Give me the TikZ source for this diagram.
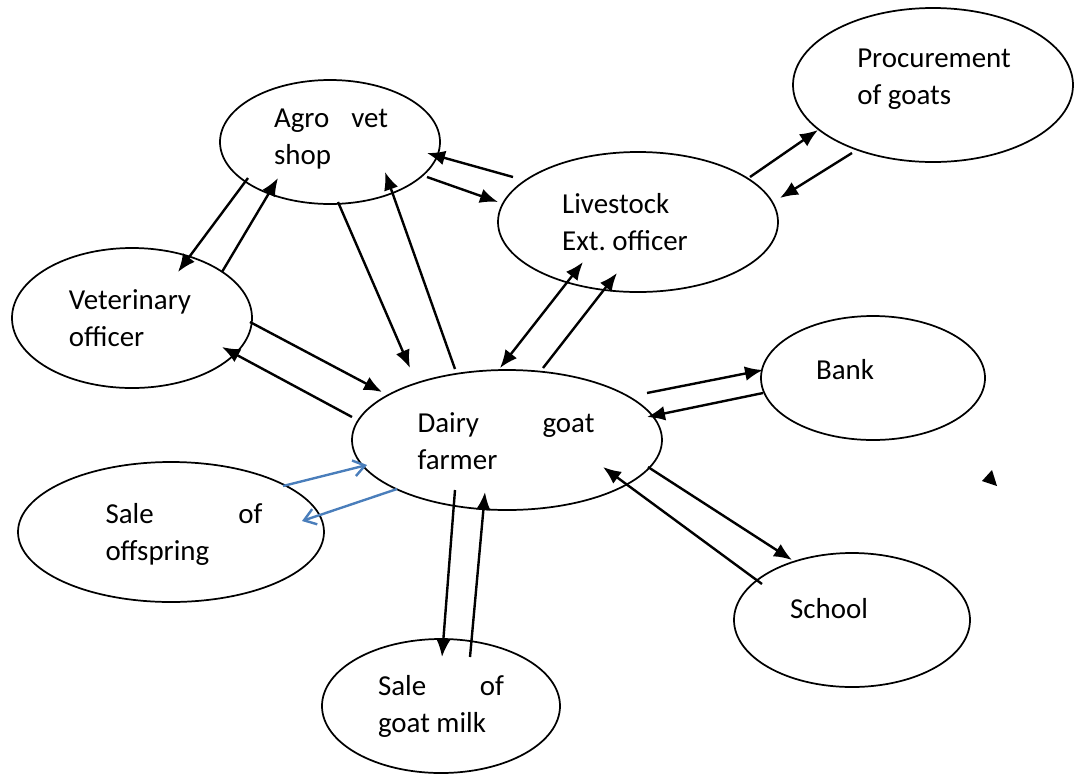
\documentclass[tikz,border=0pt]{standalone}
\usepackage{fontspec}
\setmainfont{Carlito}
\usepackage{tikz}
\usetikzlibrary{shapes.geometric,arrows.meta}
\definecolor{saleblue}{RGB}{74,126,187}
\tikzset{
    oval-node/.style = {draw, ellipse, line width=1.3pt, inner sep=0pt},
    oval-text/.style = {align=flush left, inner sep=0pt, font=\fontsize{21.7}{27.75}\selectfont},
    flow-arrow/.style = {-{Latex[length=13.5pt, width=11pt]}, line width=1.8pt},
    both-arrow/.style = {{Latex[length=13.5pt, width=11pt]}-{Latex[length=13.5pt, width=11pt]}, line width=1.8pt},
    sale-arrow/.style = {-{Straight Barb[length=8.5pt, width=12pt, line width=1.8pt]}, draw=saleblue, line width=1.8pt},
}

\begin{document}
\begin{tikzpicture}[x=0.75pt, y=-0.75pt]
\useasboundingbox (0,0) rectangle (1075,776);

\node[oval-node, minimum width=165pt, minimum height=93pt] (agro) at (330,142) {};
\node[oval-node, minimum width=210pt, minimum height=115.5pt] (proc) at (933,85) {};
\node[oval-node, minimum width=210pt, minimum height=105pt] (live) at (638,222) {};
\node[oval-node, minimum width=180pt, minimum height=105pt] (vet) at (132,318) {};
\node[oval-node, minimum width=232.5pt, minimum height=105pt] (farmer) at (507,440) {};
\node[oval-node, minimum width=168pt, minimum height=93pt] (bank) at (873,378) {};
\node[oval-node, minimum width=229.5pt, minimum height=105pt] (offs) at (171,532) {};
\node[oval-node, minimum width=177pt, minimum height=100.5pt] (school) at (852,620) {};
\node[oval-node, minimum width=178.5pt, minimum height=100.5pt] (milk) at (441,706) {};

\node[oval-text, text width=85.5pt] (agro-text) at (331,139) {Agro\hfill vet\\shop};
\node[oval-text] (proc-text) at (934,79) {Procurement\\of goats};
\node[oval-text] (live-text) at (625,222) {Livestock\\Ext.\ officer};
\node[oval-text] (vet-text) at (130,318) {Veterinary\\officer};
\node[oval-text, text width=132.75pt] (farmer-text) at (506,441) {Dairy\hfill goat\\farmer};
\node[oval-text] (bank-text) at (845,370) {Bank};
\node[oval-text, text width=117.75pt] (offs-text) at (184,534) {Sale\hfill of\\offspring};
\node[oval-text] (school-text) at (829,609) {School};
\node[oval-text, text width=94.5pt] (milk-text) at (441,706) {Sale\hfill of\\goat milk};

\draw[flow-arrow] ([shift={(-82,36)}]agro.center) -- ([shift={(46,-46)}]vet.center);
\draw[flow-arrow] ([shift={(90,-46)}]vet.center) -- ([shift={(-52,36)}]agro.center);
\draw[flow-arrow] ([shift={(8,60)}]agro.center) -- ([shift={(-97,-72)}]farmer.center);
\draw[flow-arrow] ([shift={(-52,-71)}]farmer.center) -- ([shift={(55,30)}]agro.center);
\draw[flow-arrow] ([shift={(-125,-45)}]live.center) -- ([shift={(97,11)}]agro.center);
\draw[flow-arrow] ([shift={(97,35)}]agro.center) -- ([shift={(-140,-20)}]live.center);
\draw[flow-arrow] ([shift={(112,-45)}]live.center) -- ([shift={(-115,45)}]proc.center);
\draw[flow-arrow] ([shift={(-81,68)}]proc.center) -- ([shift={(142,-24)}]live.center);
\draw[both-arrow] ([shift={(-55,40)}]live.center) -- ([shift={(-7,-72)}]farmer.center);
\draw[flow-arrow] ([shift={(36,-72)}]farmer.center) -- ([shift={(-21,51)}]live.center);
\draw[flow-arrow] ([shift={(118,4)}]vet.center) -- ([shift={(-125,-48)}]farmer.center);
\draw[flow-arrow] ([shift={(-155,-23)}]farmer.center) -- ([shift={(90,29)}]vet.center);
\draw[flow-arrow] ([shift={(140,-47)}]farmer.center) -- ([shift={(-110,-8)}]bank.center);
\draw[flow-arrow] ([shift={(-110,15)}]bank.center) -- ([shift={(140,-23)}]farmer.center);
\draw[flow-arrow] ([shift={(141,27)}]farmer.center) -- ([shift={(-60,-60)}]school.center);
\draw[flow-arrow] ([shift={(-90,-36)}]school.center) -- ([shift={(96,27)}]farmer.center);
\draw[flow-arrow] ([shift={(-52,50)}]farmer.center) -- ([shift={(1,-49)}]milk.center);
\draw[flow-arrow] ([shift={(29,-49)}]milk.center) -- ([shift={(-22,52)}]farmer.center);
\draw[sale-arrow] ([shift={(112,-46)}]offs.center) -- ([shift={(-140,25)}]farmer.center);
\draw[sale-arrow] ([shift={(-110,49)}]farmer.center) -- ([shift={(131,-11)}]offs.center);

\fill (982,481) -- (992,470) -- (997,486) -- cycle;
\end{tikzpicture}
\end{document}
